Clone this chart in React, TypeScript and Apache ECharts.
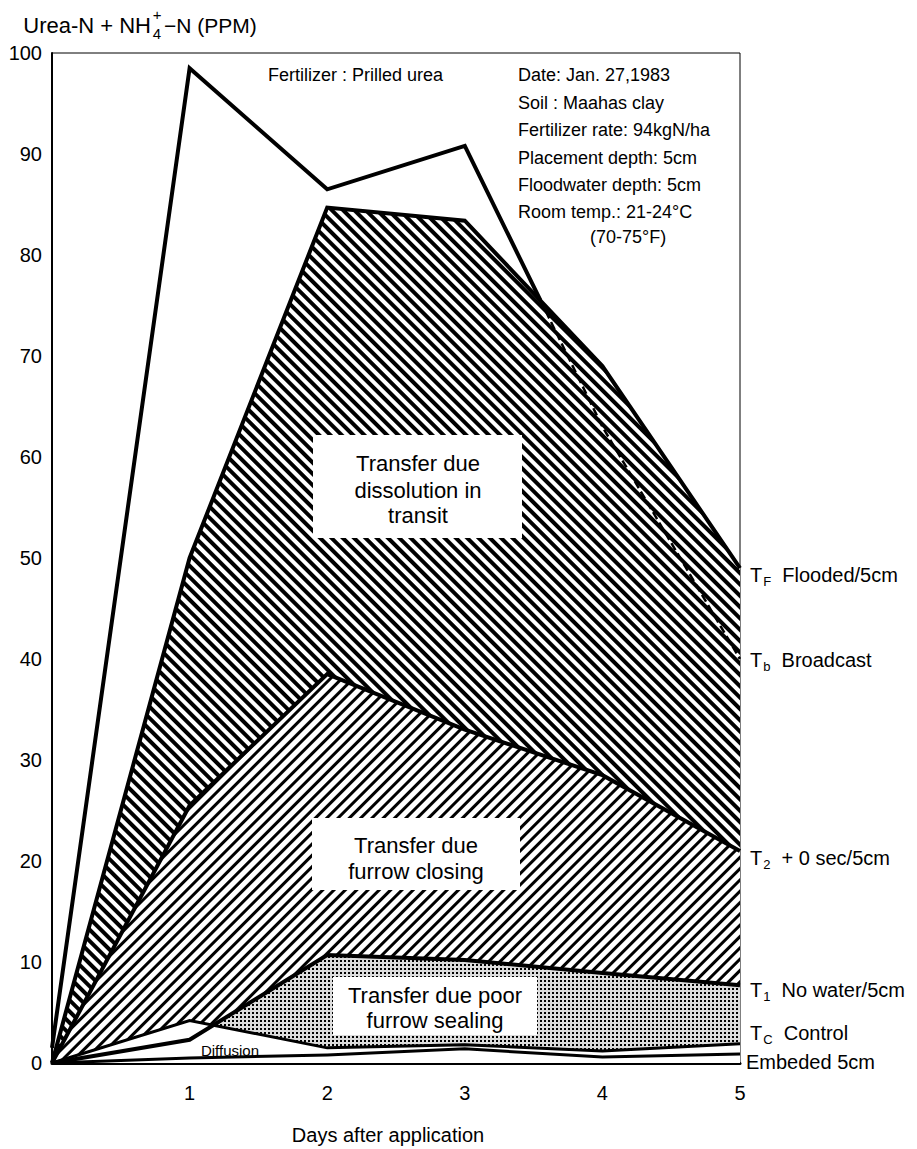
import React, { useEffect, useRef } from "react";
import * as echarts from "echarts";

// ---- data (days after application vs Urea-N + NH4-N, ppm) ----
const days = [0, 1, 2, 3, 4, 5];
const xTickLabels = ["", "1", "2", "3", "4", "5"];
const broadcastDays = [0, 1, 2, 3, 3.55, 4, 5];
const broadcast = [1.5, 98.5, 86.5, 90.8, 75.5, 63, 40];
const broadcastDashFrom = 4; // index where the curve continues dashed
const flooded = [0, 50, 84.7, 83.4, 69, 49];
const sec0 = [0, 25.5, 38.5, 33, 28.5, 21];
const noWater = [0, 2.3, 10.7, 10.2, 8.9, 7.7];
const control = [0, 4.2, 1.5, 1.8, 1.2, 1.9];
const embedded = [0, 0.5, 0.8, 1.4, 0.6, 0.9];

const FONT = '"Liberation Sans", Arial, sans-serif';

const pairs = (xs: number[], ys: number[]) => xs.map((d, i) => [d, ys[i]]);

const hatchBack = {
  symbol: "rect",
  symbolSize: 1,
  dashArrayX: [1, 0],
  dashArrayY: [4, 4],
  rotation: Math.PI / 4,
  color: "#000",
};
const hatchFwd = {
  symbol: "rect",
  symbolSize: 1,
  dashArrayX: [1, 0],
  dashArrayY: [3, 5],
  rotation: -Math.PI / 4,
  color: "#000",
};
const dots = {
  symbol: "rect",
  symbolSize: 1,
  dashArrayX: [2, 2],
  dashArrayY: [2, 2],
  color: "#000",
};

function areaSeries(name: string, data: number[][], fill: string, decal?: any) {
  return {
    type: "line",
    name,
    data,
    showSymbol: false,
    silent: true,
    lineStyle: { width: 0 },
    itemStyle: decal ? { color: fill, decal } : { color: fill },
    areaStyle: { color: fill, opacity: 1 },
  };
}

function lineSeries(name: string, data: number[][], width: number, dashed = false) {
  return {
    type: "line",
    name,
    data,
    showSymbol: false,
    silent: true,
    itemStyle: { color: "#000" },
    lineStyle: { color: "#000", width, type: dashed ? [8, 4] : "solid", join: "miter" },
  };
}

function txt(text: string, x: number, y: number, size: number, align = "left", extra: any = {}) {
  return {
    type: "text",
    x,
    y,
    z: 100,
    silent: true,
    style: {
      text,
      fill: "#000",
      font: `${size}px ${FONT}`,
      align,
      verticalAlign: "middle",
      ...extra,
    },
  };
}

function tLabel(sub: string, rest: string, y: number) {
  return txt(`{t|T}{s|${sub}}{r|  ${rest}}`, 750, y, 20, "left", {
    rich: {
      t: { fontSize: 20, fontFamily: FONT, fill: "#000" },
      s: { fontSize: 13, fontFamily: FONT, fill: "#000", padding: [12, 0, 0, 1] },
      r: { fontSize: 20, fontFamily: FONT, fill: "#000" },
    },
  });
}

function box(x: number, y: number, w: number, h: number) {
  return { type: "rect", z: 99, silent: true, shape: { x, y, width: w, height: h }, style: { fill: "#fff" } };
}

export default function App() {
  const ref = useRef<HTMLDivElement>(null);
  useEffect(() => {
    if (!ref.current) return;
    const chart = echarts.init(ref.current, undefined, { renderer: "svg" });
    const option: any = {
      animation: false,
      backgroundColor: "#fff",
      grid: {
        left: 52,
        right: 177,
        top: 53,
        bottom: 86,
        show: true,
        borderColor: "#000",
        borderWidth: 1,
        backgroundColor: "transparent",
      },
      xAxis: {
        type: "value",
        min: 0,
        max: 5,
        interval: 1,
        axisLine: { show: true, lineStyle: { color: "#000", width: 3 } },
        axisTick: { show: false },
        splitLine: { show: false },
        axisLabel: {
          margin: 20,
          color: "#000",
          fontSize: 20,
          fontFamily: FONT,
          formatter: (v: number) => xTickLabels[Math.round(v)] ?? "",
        },
      },
      yAxis: {
        type: "value",
        min: 0,
        max: 100,
        interval: 10,
        axisLine: { show: true, lineStyle: { color: "#000", width: 2 } },
        axisTick: { show: false },
        splitLine: { show: false },
        axisLabel: { margin: 10, color: "#000", fontSize: 20, fontFamily: FONT },
      },
      series: [
        areaSeries("dissolution", pairs(days, flooded), "#fff", hatchBack),
        areaSeries("furrow closing", pairs(days, sec0), "#fff", hatchFwd),
        areaSeries("poor sealing", pairs(days, noWater), "#dcdcdc", dots),
        areaSeries("control base", pairs(days, control), "#fff"),
        lineSeries("Embeded 5cm", pairs(days, embedded), 3),
        lineSeries("Control", pairs(days, control), 3),
        lineSeries("No water/5cm", pairs(days, noWater), 4),
        lineSeries("+0 sec/5cm", pairs(days, sec0), 4),
        lineSeries("Flooded/5cm", pairs(days, flooded), 4),
        lineSeries(
          "Broadcast",
          pairs(broadcastDays.slice(0, broadcastDashFrom + 1), broadcast.slice(0, broadcastDashFrom + 1)),
          4
        ),
        lineSeries(
          "Broadcast (cont.)",
          pairs(broadcastDays.slice(broadcastDashFrom), broadcast.slice(broadcastDashFrom)),
          2.5,
          true
        ),
      ],
      graphic: [
        // axis title
        txt("Urea-N + NH", 151, 25, 22, "right"),
        txt("+", 157, 14, 15, "center"),
        txt("4", 157, 33, 15, "center"),
        txt("\u2212N (PPM)", 164, 25, 21, "left"),
        // experiment info
        txt("Fertilizer : Prilled urea", 268, 75, 18),
        txt("Date: Jan. 27,1983", 518, 75, 18),
        txt("Soil : Maahas clay", 518, 103, 18),
        txt("Fertilizer rate: 94kgN/ha", 518, 130, 18),
        txt("Placement depth: 5cm", 518, 158, 18),
        txt("Floodwater depth: 5cm", 518, 185, 18),
        txt("Room temp.: 21-24\u00b0C", 518, 212, 18),
        txt("(70-75\u00b0F)", 590, 237, 18),
        // region boxes
        box(313, 435, 209, 103),
        txt("Transfer due", 418, 463, 22, "center"),
        txt("dissolution in", 418, 490, 22, "center"),
        txt("transit", 418, 515, 22, "center"),
        box(312, 818, 208, 72),
        txt("Transfer due", 416, 845, 22, "center"),
        txt("furrow closing", 416, 871, 22, "center"),
        box(333, 977, 204, 58),
        txt("Transfer due poor", 435, 995, 22, "center"),
        txt("furrow sealing", 435, 1020, 22, "center"),
        txt("Diffusion", 230, 1050, 15, "center"),
        // series labels
        tLabel("F", "Flooded/5cm", 575),
        tLabel("b", "Broadcast", 660),
        tLabel("2", "+ 0 sec/5cm", 858),
        tLabel("1", "No water/5cm", 990),
        tLabel("C", "Control", 1033),
        txt("Embeded 5cm", 746, 1062, 20),
        // x axis title
        txt("Days after application", 388, 1135, 20, "center"),
      ],
    };
    chart.setOption(option);
    return () => chart.dispose();
  }, []);
  return (
    <div
      ref={ref}
      style={{ position: "absolute", left: 0, top: 0, width: 917, height: 1149, background: "#fff" }}
    />
  );
}
